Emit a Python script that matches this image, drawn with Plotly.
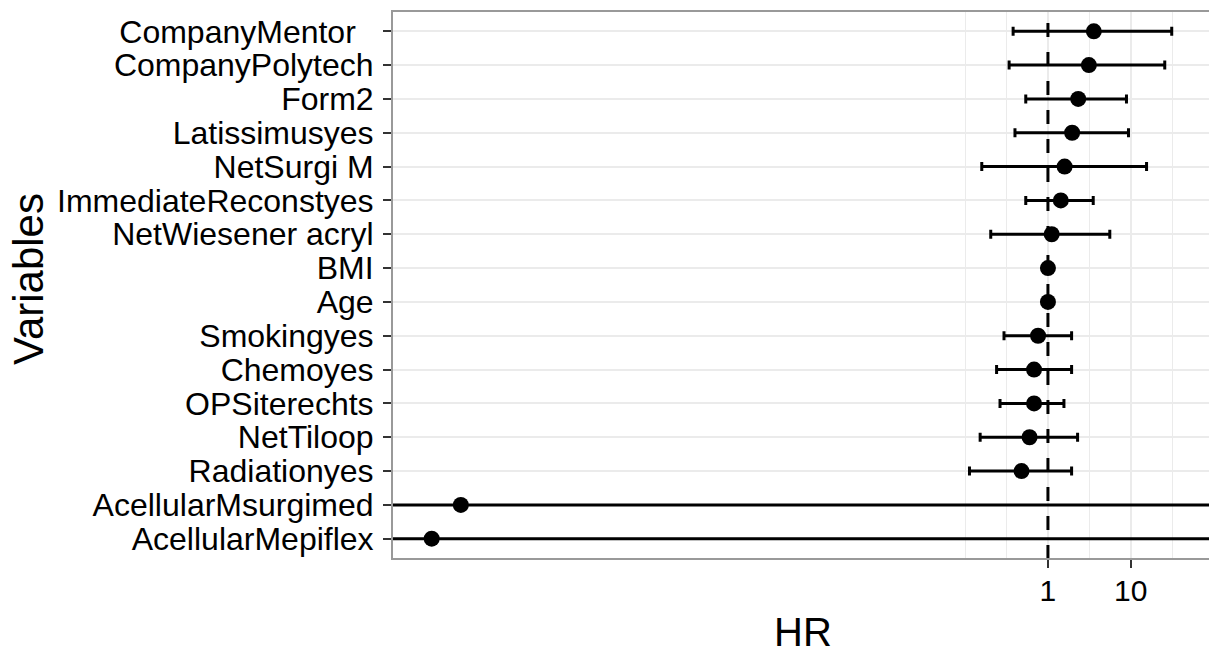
import plotly.graph_objects as go

# ---- data (top to bottom as displayed) ----
variables = [
    "CompanyMentor\u00a0\u00a0", "CompanyPolytech", "Form2", "Latissimusyes", "NetSurgi M",
    "ImmediateReconstyes", "NetWiesener acryl", "BMI", "Age", "Smokingyes",
    "Chemoyes", "OPSiterechts", "NetTiloop", "Radiationyes",
    "AcellularMsurgimed", "AcellularMepiflex",
]
hr = [3.58, 3.12, 2.32, 1.96, 1.59, 1.43, 1.11, 1.00, 1.00, 0.76,
      0.68, 0.68, 0.60, 0.48, 8.2e-8, 3.65e-8]
ci_low = [0.38, 0.34, 0.54, 0.40, 0.159, 0.54, 0.204, 0.97, 0.98, 0.295,
          0.24, 0.264, 0.152, 0.113, 1e-12, 1e-12]
ci_high = [31.2, 25.7, 8.87, 9.38, 15.5, 3.52, 5.58, 1.03, 1.02, 1.93,
           1.93, 1.56, 2.28, 1.93, 1e4, 1e4]
ref_line = [1, 1]
x_tickvals = [1, 10]
x_ticktext = ["1", "10"]
x_minor_grid = [0.1, 10 ** -0.5, 10 ** 0.5, 10 ** 1.5, 100]

FONT = "Liberation Sans, Arial, sans-serif"

err_plus = [h - m for h, m in zip(ci_high, hr)]
err_minus = [m - l for m, l in zip(hr, ci_low)]

fig = go.Figure()
fig.add_trace(go.Scatter(
    x=hr, y=variables, mode="markers",
    marker=dict(color="black", size=16, line=dict(width=0)),
    error_x=dict(type="data", symmetric=False, array=err_plus, arrayminus=err_minus,
                 color="black", thickness=3, width=4.5),
    showlegend=False, hoverinfo="x+y",
))
fig.add_trace(go.Scatter(
    x=ref_line, y=[0, 1], yaxis="y2", mode="lines",
    line=dict(color="black", width=3, dash="14px,15px"),
    showlegend=False, hoverinfo="skip",
))

fig.update_layout(
    width=1209, height=654,
    margin=dict(l=392, r=0, t=11, b=95),
    paper_bgcolor="white", plot_bgcolor="white",
    font=dict(family=FONT, color="black"),
    xaxis=dict(
        type="log", range=[-7.917, 1.944],
        tickmode="array", tickvals=x_tickvals, ticktext=x_ticktext,
        showgrid=True, gridcolor="#EBEBEB", gridwidth=2,
        minor=dict(tickmode="array", tickvals=x_minor_grid, showgrid=True,
                   gridcolor="#EBEBEB", gridwidth=1, ticks=""),
        ticks="outside", ticklen=8, tickwidth=2, tickcolor="#333333",
        tickfont=dict(size=30, color="black", family=FONT),
        ticklabelstandoff=-3,
        zeroline=False, showline=False,
    ),
    yaxis=dict(
        type="category", categoryorder="array", categoryarray=variables[::-1],
        tickmode="array", tickvals=variables, ticktext=variables,
        range=[-0.6, 15.6],
        showgrid=True, gridcolor="#EBEBEB", gridwidth=2,
        ticks="outside", ticklen=8, tickwidth=2, tickcolor="#333333",
        tickfont=dict(size=32, color="black", family=FONT),
        ticklabelstandoff=3,
        zeroline=False, showline=False,
    ),
    yaxis2=dict(overlaying="y", range=[0, 1], visible=False, showgrid=False),
    shapes=[dict(type="rect", xref="paper", yref="paper", x0=0, x1=1.02, y0=0, y1=1,
                 line=dict(color="#999999", width=2), layer="above")],
    annotations=[
        dict(text="Variables", xref="paper", yref="paper",
             x=(28 - 392) / 817, y=(559 - 279) / 548, textangle=-90,
             xanchor="center", yanchor="middle", showarrow=False,
             font=dict(size=42, color="black", family=FONT)),
        dict(text="HR", xref="paper", yref="paper",
             x=(803 - 392) / 817, y=(559 - 632) / 548,
             xanchor="center", yanchor="middle", showarrow=False,
             font=dict(size=40, color="black", family=FONT)),
    ],
)

fig.write_html("out.html", config={"displayModeBar": False},
               post_script="document.body.style.margin='0';document.body.style.overflow='hidden';")
